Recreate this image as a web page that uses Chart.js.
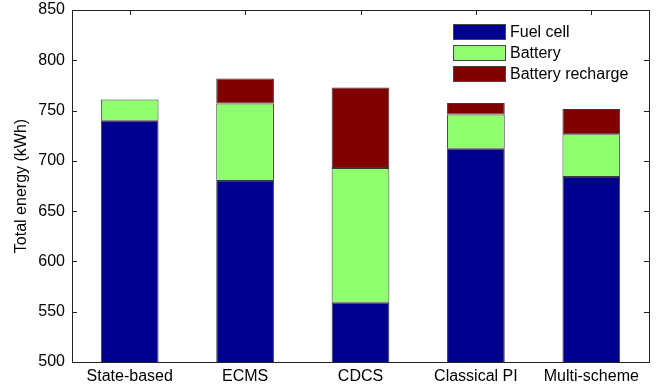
<!DOCTYPE html>
<html>
<head>
<meta charset="utf-8">
<script src="https://cdn.jsdelivr.net/npm/chart.js@4/dist/chart.umd.min.js"></script>
<style>
  html, body { margin: 0; padding: 0; background: #fff; }
  #wrap { width: 668px; height: 389px; }
</style>
</head>
<body>
<div id="wrap"><canvas id="energyChart"></canvas></div>
<script>
const strategies = ['State-based', 'ECMS', 'CDCS', 'Classical PI', 'Multi-scheme'];
const fuelCell = [740, 680, 559, 712, 684];
const battery = [21, 77, 134, 34, 42.5];
const batteryRecharge = [0, 25, 80, 11.5, 25];
const yTicks = [500, 550, 600, 650, 700, 750, 800, 850];

const FONT = 'Liberation Sans, Arial, Helvetica, sans-serif';
const AXIS_COLOR = '#222';

// MATLAB style box with inward ticks
const matlabAxes = {
    id: 'matlabAxes',
    beforeDatasetsDraw(chart) {
        const { ctx, chartArea: a, scales: { x, y } } = chart;
        ctx.save();
        ctx.strokeStyle = AXIS_COLOR;
        ctx.lineWidth = 1;
        ctx.beginPath();
        yTicks.forEach(v => {
            const py = Math.round(y.getPixelForValue(v)) + 0.5;
            ctx.moveTo(a.left, py); ctx.lineTo(a.left + 5, py);
            ctx.moveTo(a.right, py); ctx.lineTo(a.right - 5, py);
        });
        strategies.forEach((_, i) => {
            const px = Math.round(x.getPixelForValue(i)) + 0.5;
            ctx.moveTo(px, a.top); ctx.lineTo(px, a.top + 5);
            ctx.moveTo(px, a.bottom); ctx.lineTo(px, a.bottom - 5);
        });
        ctx.stroke();
        ctx.restore();
    },
    afterDraw(chart) {
        const { ctx, chartArea: a } = chart;
        ctx.save();
        ctx.strokeStyle = AXIS_COLOR;
        ctx.lineWidth = 1;
        ctx.strokeRect(Math.round(a.left) + 0.5, Math.round(a.top) + 0.5,
            Math.round(a.right - a.left), Math.round(a.bottom - a.top));

        // legend in the top-right corner
        const boxX = a.right - 196, boxW = 52, boxH = 15;
        let top = a.top + 14;
        ctx.font = '16px ' + FONT;
        ctx.textBaseline = 'middle';
        chart.data.datasets.forEach(ds => {
            ctx.fillStyle = ds.backgroundColor;
            ctx.fillRect(boxX, top, boxW, boxH);
            ctx.strokeStyle = '#444';
            ctx.strokeRect(boxX + 0.5, top + 0.5, boxW, boxH);
            ctx.fillStyle = '#000';
            ctx.fillText(ds.label, boxX + boxW + 5, top + boxH / 2 + 1);
            top += 21;
        });
        ctx.restore();
    }
};

const barStyle = {
    borderColor: '#3a3a3a',
    borderWidth: 1,
    borderSkipped: false,
    categoryPercentage: 1.0,
    barPercentage: 0.5
};

new Chart(document.getElementById('energyChart'), {
    type: 'bar',
    data: {
        labels: strategies,
        datasets: [
            { label: 'Fuel cell', data: fuelCell, backgroundColor: 'rgb(0,0,143)', ...barStyle },
            { label: 'Battery', data: battery, backgroundColor: 'rgb(143,255,112)', ...barStyle },
            { label: 'Battery recharge', data: batteryRecharge, backgroundColor: 'rgb(128,0,0)', ...barStyle }
        ]
    },
    options: {
        responsive: true,
        maintainAspectRatio: false,
        animation: false,
        layout: { padding: { left: 0, right: 19, top: 10, bottom: 0 } },
        plugins: {
            legend: { display: false },
            tooltip: { enabled: false }
        },
        scales: {
            x: {
                stacked: true,
                grid: { display: false, drawTicks: false },
                border: { display: false },
                ticks: { color: '#000', font: { family: FONT, size: 16 }, padding: 5, maxRotation: 0, autoSkip: false },
                afterFit: scale => {
                    scale.height = 27;
                    scale.paddingLeft = 0;
                    scale.paddingRight = 0;
                }
            },
            y: {
                stacked: true,
                min: 500,
                max: 850,
                grid: { display: false, drawTicks: false },
                border: { display: false },
                afterBuildTicks: scale => { scale.ticks = yTicks.map(v => ({ value: v })); },
                ticks: { color: '#000', font: { family: FONT, size: 16 }, padding: 7 },
                title: {
                    display: true,
                    text: 'Total energy (kWh)',
                    color: '#000',
                    font: { family: FONT, size: 16 },
                    padding: { top: 12, bottom: 0 }
                },
                afterFit: scale => {
                    scale.width = 72;
                    scale.paddingTop = 0;
                    scale.paddingBottom = 0;
                }
            }
        }
    },
    plugins: [matlabAxes]
});
</script>
</body>
</html>
